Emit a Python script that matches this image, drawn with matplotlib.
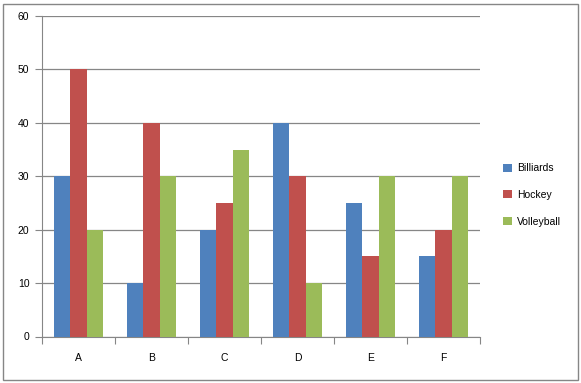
import numpy as np
import matplotlib.pyplot as plt
from matplotlib.patches import Rectangle

categories = ['A', 'B', 'C', 'D', 'E', 'F']
billiards = [30, 10, 20, 40, 25, 15]
hockey = [50, 40, 25, 30, 15, 20]
volleyball = [20, 30, 35, 10, 30, 30]

series = [('Billiards', billiards, '#4F81BD'),
          ('Hockey', hockey, '#C0504D'),
          ('Volleyball', volleyball, '#9BBB59')]

plt.rcParams['font.family'] = ['Liberation Sans', 'DejaVu Sans']

fig = plt.figure(figsize=(5.81, 3.83), dpi=100)
fig.patches.append(Rectangle((3 / 581, 3 / 383), 575 / 581, 376 / 383,
                             transform=fig.transFigure, fill=False,
                             edgecolor='#868686', linewidth=1))
ax = fig.add_axes([42 / 581, 46.5 / 383, 438 / 581, 320.5 / 383])

x = np.arange(len(categories))
w = 0.224
for i, (name, vals, col) in enumerate(series):
    ax.bar(x + (i - 1) * w, vals, width=w, color=col, label=name, zorder=3)

ax.set_xlim(-0.5, len(categories) - 0.5)
ax.set_ylim(0, 60)
ax.set_yticks(range(0, 61, 10))
ax.set_xticks(np.arange(-0.5, len(categories), 1))
ax.set_xticklabels([])
ax.set_xticks(x, minor=True)
ax.set_xticklabels(categories, minor=True)
ax.tick_params(axis='x', which='minor', length=0, pad=12, labelsize=7.5)
ax.tick_params(axis='x', which='major', length=5, color='#868686', direction='out')
ax.tick_params(axis='y', length=5, color='#868686', direction='out', labelsize=7.5, pad=4)
ax.yaxis.grid(True, color='#868686', linewidth=0.9, zorder=0)
for s in ['top', 'right']:
    ax.spines[s].set_visible(False)
for s in ['left', 'bottom']:
    ax.spines[s].set_color('#868686')

fig.legend(loc='upper left', bbox_to_anchor=(494 / 581, 1 - 154 / 383),
           frameon=False, fontsize=7.5, handlelength=0.8, handleheight=0.8,
           labelspacing=1.6, handletextpad=0.5)

fig.savefig('out.png', dpi=100)
